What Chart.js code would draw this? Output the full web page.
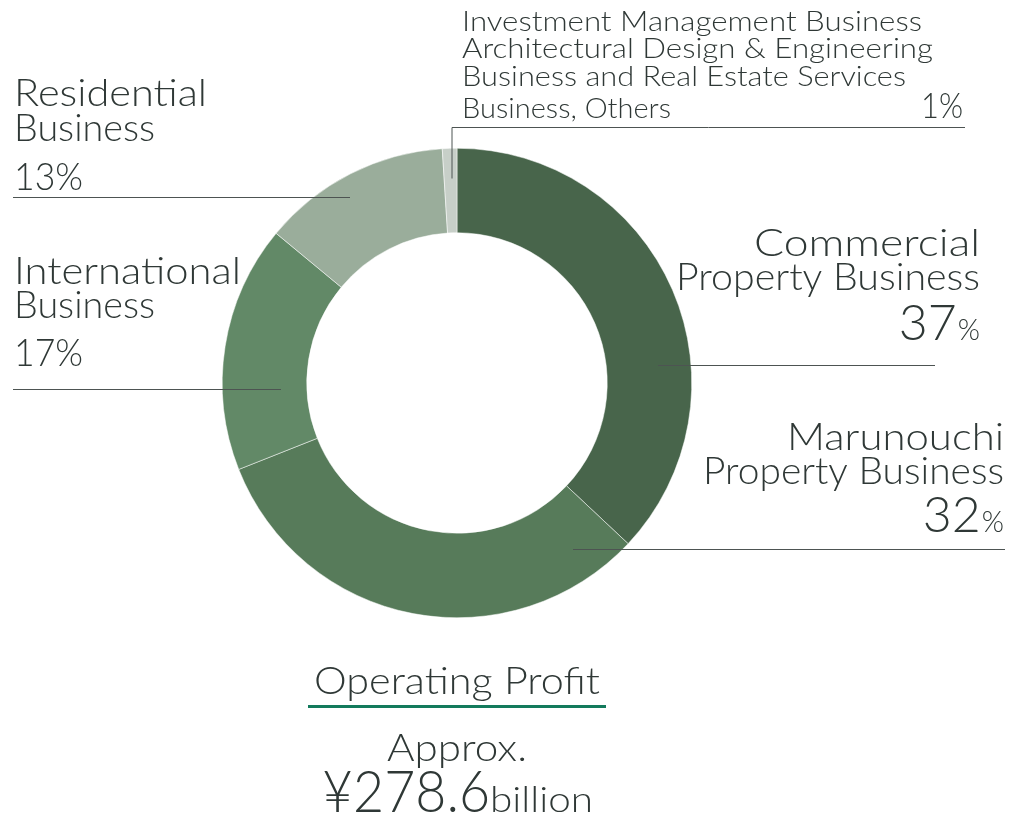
<!DOCTYPE html>
<html>
<head>
<meta charset="utf-8">
<script src="https://cdn.jsdelivr.net/npm/chart.js@4/dist/chart.umd.min.js"></script>
<style>
html,body{margin:0;padding:0;background:#fff;}
#wrap{width:1010px;height:817px;position:relative;}
</style>
</head>
<body>
<div id="wrap"><canvas id="c" width="1010" height="817"></canvas></div>
<script>
// ---- data ----
const categories = [
  "Commercial Property Business",
  "Marunouchi Property Business",
  "International Business",
  "Residential Business",
  "Investment Management Business Architectural Design & Engineering Business and Real Estate Services Business, Others"
];
const shares = [37, 32, 17, 13, 1];
const sliceColors = ["#48654b", "#577b5a", "#628967", "#9aad9b", "#c7cfc8"];

const labelLines = [
  ["Commercial", "Property Business"],
  ["Marunouchi", "Property Business"],
  ["International", "Business"],
  ["Residential", "Business"],
  ["Investment Management Business", "Architectural Design & Engineering", "Business and Real Estate Services", "Business, Others"]
];
const totalTitle = "Operating Profit";
const totalPrefix = "Approx.";
const totalValue = "¥278.6";
const totalUnit = "billion";

// ---- layout (positions / styles only) ----
const FONT = "Lato, 'Open Sans', sans-serif";
const TEXT = "#2f3836";
const LINE = "#4d5452";
const layout = [
  {align:"right", x:980, base:[256,290], w:[226,304], size:38, pctBase:340, pctSize:50, pctSmall:30, pctW:77,
   lines:[[658,365,935,365]]},
  {align:"right", x:1004, base:[450,484], w:[217,301], size:38, pctBase:532, pctSize:50, pctSmall:30, pctW:74,
   lines:[[573,549,1005,549]]},
  {align:"left", x:14, base:[284,318], w:[227,141], size:38, pctBase:366, pctSize:38, pctSmall:38, pctW:69, plain:true,
   lines:[[13,389,281,389]]},
  {align:"left", x:14, base:[106,141], w:[193,141], size:38, pctBase:190, pctSize:38, pctSmall:38, pctW:69, plain:true,
   lines:[[13,197,350,197]]},
  {align:"left", x:462, base:[31,58,86,118], w:[460,471,444,209], size:27, pctBase:118, pctSize:36, pctSmall:36, pctW:42, plain:true, pctAlign:"right", pctX:963,
   lines:[[452,127,965,127],[452,127,452,178]]}
];

function fitText(ctx, text, x, y, size, align, targetW, weight) {
  ctx.font = (weight||"300") + " " + size + "px " + FONT;
  const m = ctx.measureText(text).width;
  const s = targetW ? targetW / m : 1;
  ctx.save();
  ctx.textBaseline = "alphabetic";
  ctx.textAlign = "left";
  let x0 = x;
  if (align === "right") x0 = x - m * s;
  else if (align === "center") x0 = x - m * s / 2;
  ctx.translate(x0, y);
  ctx.scale(s, 1);
  ctx.fillText(text, 0, 0);
  ctx.restore();
  return m * s;
}

const annotate = {
  id: "annotate",
  afterDatasetsDraw(chart) {
    const ctx = chart.ctx;
    ctx.save();
    // leader lines
    ctx.strokeStyle = LINE;
    ctx.lineWidth = 1;
    layout.forEach(L => L.lines.forEach(s => {
      ctx.beginPath();
      ctx.moveTo(s[0], s[1] + 0.5);
      ctx.lineTo(s[2], s[3] + 0.5);
      ctx.stroke();
    }));
    ctx.fillStyle = TEXT;
    layout.forEach((L, i) => {
      labelLines[i].forEach((t, j) => fitText(ctx, t, L.x, L.base[j], L.size, L.align, L.w[j]));
      const pct = String(shares[i]);
      const px = L.pctX !== undefined ? L.pctX : L.x;
      const palign = L.pctAlign || L.align;
      if (L.plain) {
        fitText(ctx, pct + "%", px, L.pctBase, L.pctSize, palign, L.pctW);
      } else {
        // big digits, small %
        ctx.font = "300 " + L.pctSmall + "px " + FONT;
        const pw = ctx.measureText("%").width;
        fitText(ctx, "%", px, L.pctBase, L.pctSmall, "right", pw * 0.95);
        fitText(ctx, pct, px - pw * 0.95 - 1, L.pctBase, L.pctSize, "right", null);
      }
    });
    // total block
    fitText(ctx, totalTitle, 457, 694, 38, "center", 286);
    ctx.fillStyle = "#137a5c";
    ctx.fillRect(308, 705, 298, 3);
    ctx.fillStyle = TEXT;
    fitText(ctx, totalPrefix, 457, 761, 38, "center", 140);
    fitText(ctx, totalValue, 322, 812, 58, "left", 168);
    fitText(ctx, totalUnit, 490, 812, 36, "left", 103);
    ctx.restore();
  }
};

new Chart(document.getElementById("c"), {
  type: "doughnut",
  data: {
    labels: categories,
    datasets: [{
      data: shares,
      backgroundColor: sliceColors,
      borderWidth: 0.5,
      borderColor: "#ffffff"
    }]
  },
  options: {
    responsive: false,
    animation: false,
    cutout: "64%",
    layout: { padding: { left: 222, right: 318, top: 148, bottom: 199 } },
    plugins: { legend: { display: false }, tooltip: { enabled: false } }
  },
  plugins: [annotate]
});
</script>
</body>
</html>
